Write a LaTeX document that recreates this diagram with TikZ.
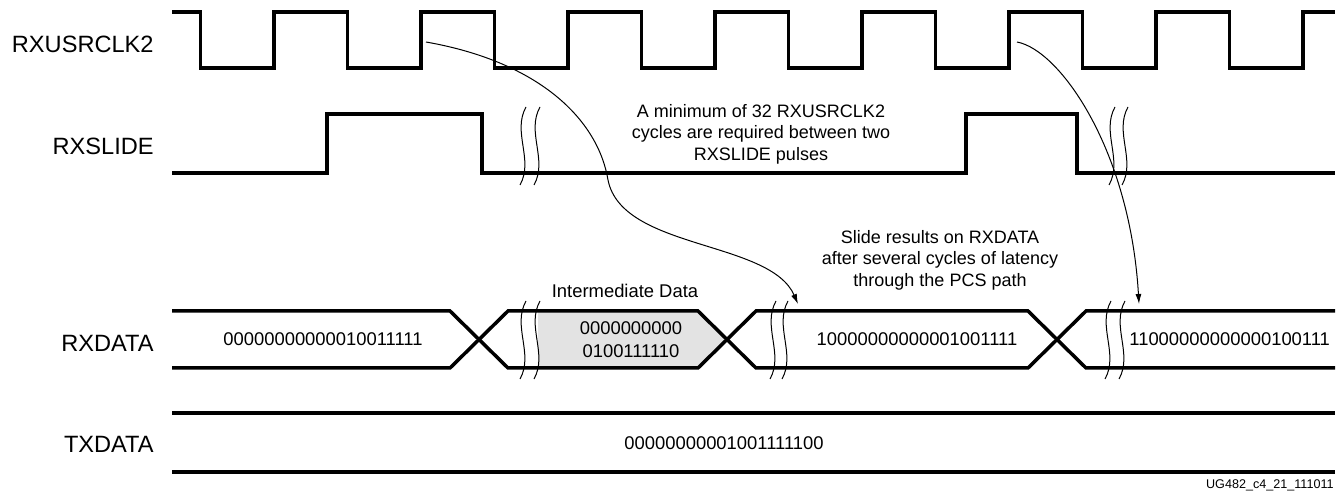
\documentclass[tikz,border=0pt]{standalone}
\usepackage{fontspec}
\setmainfont{Liberation Sans}
\usetikzlibrary{arrows.meta}

\begin{document}
\begin{tikzpicture}[
        x=0.5pt, y=-0.5pt,
        >={Latex[length=5pt,width=3pt]},
        sig/.style  ={line width=1.75pt, line join=miter},
        brk/.style  ={line width=0.5pt},
        lat/.style  ={->, line width=0.5pt},
        lbl/.style  ={anchor=base east, inner sep=0pt,
                      font=\fontsize{11.8}{14}\selectfont},
        dat/.style  ={inner sep=0pt, align=center,
                      font=\fontsize{9.2}{11.5}\selectfont},
        note/.style ={inner sep=0pt, align=center,
                      font=\fontsize{9}{10.8}\selectfont},
    ]
    \useasboundingbox (0,0) rectangle (1343,496);

    % ===================== Signal names =====================
    \node[lbl] (lclk)   at (154,53)  {RXUSRCLK2};
    \node[lbl] (lslide) at (154,155) {RXSLIDE};
    \node[lbl] (lrx)    at (154,352) {RXDATA};
    \node[lbl] (ltx)    at (154,452) {TXDATA};

    % ===================== RXUSRCLK2 =====================
    \draw[sig] (172,12) -- (200.5,12)
        \foreach \k in {0,...,6}{ -- ++(0,56) -- ++(73.5,0) -- ++(0,-56) -- ++(73.5,0) }
        -- ++(0,56) -- ++(73.5,0) -- ++(0,-56) -- (1335,12);

    % ===================== RXSLIDE =====================
    \draw[sig] (172,173) -- (327,173) -- (327,114) -- (482,114) -- (482,173)
        -- (966,173) -- (966,114) -- (1077,114) -- (1077,173) -- (1335,173);

    % ===================== RXDATA =====================
    \fill[gray!22] (538,311) -- (698,311) -- (727,339.5) -- (698,368) -- (538,368) -- cycle;
    \draw[sig] (172,311) -- (450,311) -- (508,368) -- (698,368) -- (756,311)
        -- (1028,311) -- (1086,368) -- (1335,368);
    \draw[sig] (172,368) -- (450,368) -- (508,311) -- (698,311) -- (756,368)
        -- (1028,368) -- (1086,311) -- (1335,311);

    \node[dat] (rx0) at (323,339.5) {00000000000010011111};
    \node[dat] (rx1) at (631,340)   {0000000000\\0100111110};
    \node[dat, anchor=base] (imd) at (625,298) {Intermediate Data};
    \node[dat] (rx2) at (917,339.5) {10000000000001001111};
    \node[dat, anchor=west] (rx3) at (1129,339.5) {11000000000000100111};

    % ===================== TXDATA =====================
    \draw[sig] (172,413) -- (1335,413);
    \draw[sig] (172,472) -- (1335,472);
    \node[dat] (tx0) at (724,443) {00000000001001111100};

    % ===================== Break marks =====================
    \foreach \x/\y in {523/146, 537/146, 1112/146, 1125/146,
                       523/340, 537/340, 773/340, 785/340, 1108/340, 1122/340}{
        \draw[brk] (\x+3,\y-39) .. controls (\x-11,\y-14) and (\x+11,\y+14) .. (\x-3,\y+39);
    }

    % ===================== Notes and latency arrows =====================
    \node[note] (nmin) at (761,134.3)
        {A minimum of 32 RXUSRCLK2\\cycles are required between two\\RXSLIDE pulses};
    \node[note] (nlat) at (940,260)
        {Slide results on RXDATA\\after several cycles of latency\\through the PCS path};

    \coordinate (c1) at (426,42);
    \coordinate (d1) at (798,304);
    \coordinate (c2) at (1017,42);
    \coordinate (d2) at (1139,304);
    \draw[lat] (c1) .. controls (540,62) and (598,120) .. (608,180)
        .. controls (622,250) and (770,240) .. (d1);
    \draw[lat] (c2) .. controls (1060,50) and (1130,150) .. (d2);

    \node[anchor=base east, inner sep=0pt, font=\fontsize{6.3}{7.5}\selectfont]
        (fig) at (1334,488) {UG482\_c4\_21\_111011};
\end{tikzpicture}
\end{document}
